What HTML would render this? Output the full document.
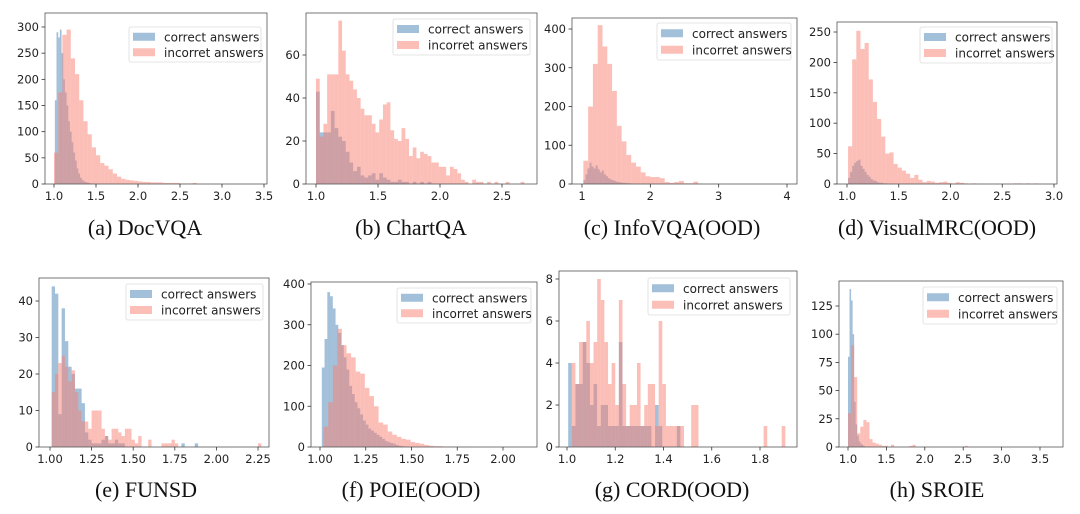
<!DOCTYPE html>
<html><head><meta charset="utf-8"><style>
body{margin:0;background:#fff;}
svg{display:block;}
text{font-family:"DejaVu Sans","Liberation Sans",sans-serif;fill:#222;}
.cap{font-family:"Liberation Serif",serif;font-size:22px;fill:#111;}
</style></head><body>
<svg id="fig" width="1080" height="514" viewBox="0 0 1080 514"></svg>
<script>
// ---- data (bin start, bin width, counts) ----
const docStartC=1.01, docWidthC=0.02;
const docCorrect=[160,290,280,295,250,200,175,150,120,100,80,60,45,30,20,12,8,5,4,3,2,1,1];
const docStartI=1.0, docWidthI=0.05;
const docIncorrect=[60,175,285,295,240,210,160,120,95,70,55,40,35,28,20,14,10,8,7,6,5,4,4,3,3,3,2,2,2,2,1,1,1,2];
const chartStartC=1.0, chartWidthC=0.03;
const chartCorrect=[43,24,24,24,34,26,22,20,15,10,6,8,4,3,4,5,2,5,3,2,1,1,2,1,1,0,1,0,1,0,1];
const chartStartI=1.0, chartWidthI=0.03;
const chartIncorrect=[49,22,28,51,51,51,76,62,51,48,44,40,35,32,32,28,24,30,37,38,25,21,20,26,21,13,17,12,15,14,13,10,10,8,8,4,8,7,5,2,1,0,2,1,1,0,1,0,1,0,0,1,0,0,0,1];
const infoStartC=1.02, infoWidthC=0.03;
const infoCorrect=[10,25,40,55,45,40,48,38,30,35,25,20,15,12,10,8,6,5,4,3,3,2,2,1,1];
const infoStartI=1.02, infoWidthI=0.07;
const infoIncorrect=[60,200,310,410,355,310,240,150,110,75,55,45,30,20,18,18,15,5,3,5,8,2,2,6,1,0,0,1];
const vmrcStartC=1.01, vmrcWidthC=0.02;
const vmrcCorrect=[10,20,30,35,38,40,30,25,20,15,12,8,6,5,3,2,2,1,1];
const vmrcStartI=1.01, vmrcWidthI=0.04;
const vmrcIncorrect=[62,205,252,222,232,172,135,107,78,50,52,33,27,22,17,10,15,7,3,5,4,2,3,4,2,1,3,2,1,0,1,0,0,0,0,0,0,0,0,0,1,1,0,1,0,1];
const funsdStartC=1.01, funsdWidthC=0.02;
const funsdCorrect=[44,42,9,38,29,22,20,16,16,12,4,2,1,1,1,2,3,1,1,2,1,1,0,0,0,0,0,0,0,0,0,0,0,0,0,0,0,0,0,1,0,0,0,1];
const funsdStartI=1.01, funsdWidthI=0.02;
const funsdIncorrect=[15,20,23,25,22,18,21,15,10,7,7,5,10,10,10,5,3,2,5,5,4,3,5,5,2,1,3,0,0,2,0,0,0,1,1,1,2,1,0,0,0,0,0,0,0,0,0,0,0,0,0,0,0,0,0,0,0,0,0,0,0,0,1];
const poieStartC=1.01, poieWidthC=0.015;
const poieCorrect=[195,265,380,370,340,300,280,250,220,190,150,130,110,95,80,65,55,45,40,35,30,25,20,15,12,10,8,5,3,2];
const poieStartI=1.02, poieWidthI=0.025;
const poieIncorrect=[50,110,200,290,250,230,220,185,180,145,125,100,60,55,38,30,25,20,18,12,10,8,5,3,2,2,1,1,1,1,1];
const cordStartC=1.005, cordWidthC=0.015;
const cordCorrect=[4,1,3,3,5,4,2,3,1,2,2,1,1,1,5,1,1,1,1,1,1,1,1,0,2,1,0,0,0,0,1];
const cordStartI=1.02, cordWidthI=0.015;
const cordIncorrect=[4,3,5,5,6,4,5,8,7,5,3,4,2,7,3,1,2,2,4,1,2,3,3,1,6,3,1,1,1,1,1,0,0,2,2,0,0,0,0,0,0,0,0,0,0,0,0,0,0,0,0,0,0,1,0,0,0,0,1];
const sroieStartC=1.0, sroieWidthC=0.02;
const sroieCorrect=[80,140,130,100,40,20,10,5,3,2,1];
const sroieStartI=1.0, sroieWidthI=0.04;
const sroieIncorrect=[30,90,62,12,18,24,22,7,4,3,2,1,1,0,2,0,0,0,0,0,1,2,0,0,0,0,0,0,0,0,0,0,0,0,0,0,0,0,1];

// ---- panel layout ----
const panels=[
 {id:'docvqa',cap:'(a)  DocVQA',f:[45,13,267,184],xm:[1,54,3.5,264],ym:[0,184,300,27],xt:[1,1.5,2,2.5,3,3.5],xd:1,yt:[0,50,100,150,200,250,300],lg:[129,27,261,62],cx:145,cy:235,
  c:[docStartC,docWidthC,docCorrect],i:[docStartI,docWidthI,docIncorrect]},
 {id:'chartqa',cap:'(b)  ChartQA',f:[306,13,537,184],xm:[1,316,2.5,502],ym:[0,184,60,55],xt:[1,1.5,2,2.5],xd:1,yt:[0,20,40,60],lg:[393,19,530,55],cx:411,cy:235,
  c:[chartStartC,chartWidthC,chartCorrect],i:[chartStartI,chartWidthI,chartIncorrect]},
 {id:'infovqa',cap:'(c)  InfoVQA(OOD)',f:[572,18,797,184],xm:[1,582,4,787],ym:[0,184,400,29],xt:[1,2,3,4],xd:0,yt:[0,100,200,300,400],lg:[657,23,791,60],cx:672,cy:235,
  c:[infoStartC,infoWidthC,infoCorrect],i:[infoStartI,infoWidthI,infoIncorrect]},
 {id:'visualmrc',cap:'(d)  VisualMRC(OOD)',f:[837,22,1057,184],xm:[1,847,3,1054],ym:[0,184,250,32],xt:[1,1.5,2,2.5,3],xd:1,yt:[0,50,100,150,200,250],lg:[920,27,1052,63],cx:937,cy:235,
  c:[vmrcStartC,vmrcWidthC,vmrcCorrect],i:[vmrcStartI,vmrcWidthI,vmrcIncorrect]},
 {id:'funsd',cap:'(e)  FUNSD',f:[39,278,269,447],xm:[1,50,2.25,258],ym:[0,447,40,301],xt:[1,1.25,1.5,1.75,2,2.25],xd:2,yt:[0,10,20,30,40],lg:[126,284,263,320],cx:146,cy:497,
  c:[funsdStartC,funsdWidthC,funsdCorrect],i:[funsdStartI,funsdWidthI,funsdIncorrect]},
 {id:'poie',cap:'(f)  POIE(OOD)',f:[311,282,537,447],xm:[1,320,2,503],ym:[0,447,400,284],xt:[1,1.25,1.5,1.75,2],xd:2,yt:[0,100,200,300,400],lg:[397,288,531,323],cx:411,cy:497,
  c:[poieStartC,poieWidthC,poieCorrect],i:[poieStartI,poieWidthI,poieIncorrect]},
 {id:'cord',cap:'(g)  CORD(OOD)',f:[559,271,797,447],xm:[1,567,1.8,760],ym:[0,447,8,279],xt:[1,1.2,1.4,1.6,1.8],xd:1,yt:[0,2,4,6,8],lg:[648,278,790,315],cx:672,cy:497,
  c:[cordStartC,cordWidthC,cordCorrect],i:[cordStartI,cordWidthI,cordIncorrect]},
 {id:'sroie',cap:'(h)  SROIE',f:[839,281,1063,447],xm:[1,848,3.5,1040],ym:[0,447,125,306],xt:[1,1.5,2,2.5,3,3.5],xd:1,yt:[0,25,50,75,100,125],lg:[923,287,1057,324],cx:937,cy:497,
  c:[sroieStartC,sroieWidthC,sroieCorrect],i:[sroieStartI,sroieWidthI,sroieIncorrect]}
];
const NS='http://www.w3.org/2000/svg';
const svg=document.getElementById('fig');
function mk(tag,attrs,parent){const e=document.createElementNS(NS,tag);for(const k in attrs)e.setAttribute(k,attrs[k]);parent.appendChild(e);return e;}
panels.forEach(p=>{
  const g=mk('g',{},svg);
  
  
  const X=v=>p.xm[1]+(v-p.xm[0])*(p.xm[3]-p.xm[1])/(p.xm[2]-p.xm[0]);
  const Y=v=>p.ym[1]+(v-p.ym[0])*(p.ym[3]-p.ym[1])/(p.ym[2]-p.ym[0]);
  [[p.c,'#4682b4','correct'],[p.i,'#fa8072','incorrect']].forEach(([s,col,nm])=>{
    const [st,w,vals]=s;
    vals.forEach((v,k)=>{
      if(v<=0)return;
      const x0=X(st+k*w),x1=X(st+(k+1)*w);
      const r=mk('rect',{x:x0,y:Y(v),width:Math.max(0.5,x1-x0),height:Y(0)-Y(v),fill:col,'fill-opacity':0.5},g);
      
      
    });
  });
  const [fx0,fy0,fx1,fy1]=p.f;
  const fr=mk('rect',{x:fx0,y:fy0,width:fx1-fx0,height:fy1-fy0,fill:'none',stroke:'#555','stroke-width':0.8},g);
  
  
  p.xt.forEach(t=>{
    const x=X(t);
    mk('line',{x1:x,x2:x,y1:fy1,y2:fy1+3.5,stroke:'#333','stroke-width':0.8},g);
    const tx=mk('text',{x:x,y:fy1+16,'font-size':11.5,'text-anchor':'middle'},g);
    tx.textContent=t.toFixed(p.xd);
    
    
  });
  p.yt.forEach(t=>{
    const y=Y(t);
    mk('line',{x1:fx0-3.5,x2:fx0,y1:y,y2:y,stroke:'#333','stroke-width':0.8},g);
    const tx=mk('text',{x:fx0-6,y:y+4,'font-size':11.5,'text-anchor':'end'},g);
    tx.textContent=t;
    
    
  });
  const [lx0,ly0,lx1,ly1]=p.lg;
  const lg=mk('g',{},g);
  
  
  mk('rect',{x:lx0,y:ly0,width:lx1-lx0,height:ly1-ly0,rx:2,fill:'#fff','fill-opacity':0.8,stroke:'#ddd','stroke-width':0.8},lg);
  const rh=(ly1-ly0)/2;
  [['correct answers','#4682b4'],['incorret answers','#fa8072']].forEach(([lab,col],k)=>{
    const cy=ly0+rh*(k+0.5)+ (k===0?1:-1);
    mk('rect',{x:lx0+4,y:cy-4,width:22,height:8,fill:col,'fill-opacity':0.5},lg);
    const t=mk('text',{x:lx0+35,y:cy+4.5,'font-size':12},lg);
    t.textContent=lab;
    
    
  });
  const cap=mk('text',{x:p.cx,y:p.cy,'text-anchor':'middle',class:'cap'},g);
  cap.textContent=p.cap;
  
  
});
</script>
</body></html>
